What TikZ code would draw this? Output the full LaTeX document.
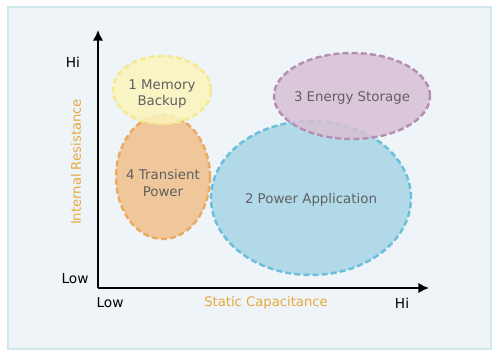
\documentclass[tikz,border=0pt]{standalone}
\usepackage{fontspec}
\setmainfont{DejaVu Sans}
\usetikzlibrary{arrows.meta}
\definecolor{panelfill}{HTML}{EEF4F7}
\definecolor{paneledge}{HTML}{D0E7EC}
\definecolor{memfill}{HTML}{FBF4BC}
\definecolor{memedge}{HTML}{F5E890}
\definecolor{transfill}{HTML}{F1C08C}
\definecolor{transedge}{HTML}{EBAA62}
\definecolor{powfill}{HTML}{A7D5E5}
\definecolor{powedge}{HTML}{6ABFDC}
\definecolor{storfill}{HTML}{D8C0D5}
\definecolor{storedge}{HTML}{B48FB1}
\definecolor{labelgray}{HTML}{606060}
\definecolor{axisorange}{HTML}{E8A83E}

\begin{document}
\begin{tikzpicture}[x=0.02cm,y=-0.02cm,
    region/.style={line width=1.4pt,dash pattern=on 3.4pt off 1.8pt,fill opacity=0.85},
    regionlabel/.style={text=labelgray,align=center,font=\fontsize{7.6}{9.6}\selectfont},
    tick/.style={font=\fontsize{7.8}{9.6}\selectfont,text=black},
    axislabel/.style={font=\fontsize{7.5}{9.6}\selectfont,text=axisorange}]
  \useasboundingbox (0,0) rectangle (500,356);
  \draw[paneledge,fill=panelfill,line width=1.2pt] (8,7) rectangle (491,349);

  % regions
  \draw[region,draw=transedge,fill=transfill] (163,177) ellipse [x radius=0.94cm,y radius=1.24cm];
  \draw[region,draw=memedge,fill=memfill] (162,90) ellipse [x radius=0.98cm,y radius=0.68cm];
  \draw[region,draw=powedge,fill=powfill] (311,198) ellipse [x radius=2cm,y radius=1.54cm];
  \draw[region,draw=storedge,fill=storfill] (352,96) ellipse [x radius=1.56cm,y radius=0.86cm];

  \node[regionlabel] (trans) at (163,183) {4 Transient\\Power};
  \node[regionlabel] (mem) at (162,94) {1 Memory\\Backup};
  \node[regionlabel] (pow) at (311,200) {2 Power Application};
  \node[regionlabel] (stor) at (352,98) {3 Energy Storage};

  % axes
  \coordinate (origin) at (98,288);
  \coordinate (ytop) at (98,30);
  \coordinate (xend) at (429,288);
  \draw[line width=1.4pt,-{Latex[length=6pt,width=6pt]}] (origin) -- (ytop);
  \draw[line width=1.4pt,-{Latex[length=6pt,width=6pt]}] (origin) -- (xend);

  \node[tick] (yhi) at (73,62) {Hi};
  \node[tick] (ylow) at (75,279) {Low};
  \node[tick] (xlow) at (110,303) {Low};
  \node[tick] (xhi) at (402,303) {Hi};
  \node[axislabel] (xname) at (266,303) {Static Capacitance};
  \node[axislabel,rotate=90] (yname) at (76,162) {Internal Resistance};
\end{tikzpicture}
\end{document}
